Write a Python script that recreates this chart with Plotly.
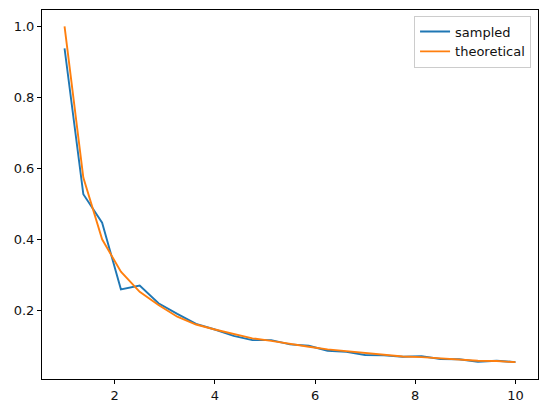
import plotly.graph_objects as go

x_values = [1.0, 1.375, 1.75, 2.125, 2.5, 2.875, 3.25, 3.625, 4.0, 4.375, 4.75, 5.125,
            5.5, 5.875, 6.25, 6.625, 7.0, 7.375, 7.75, 8.125, 8.5, 8.875, 9.25, 9.625, 10.0]
sampled = [0.938, 0.527, 0.447, 0.259, 0.270, 0.220, 0.190, 0.162, 0.146, 0.128, 0.116, 0.116,
           0.104, 0.100, 0.086, 0.083, 0.074, 0.073, 0.069, 0.071, 0.063, 0.062, 0.055, 0.058, 0.054]
theoretical = [1.0, 0.574, 0.400, 0.309, 0.252, 0.215, 0.182, 0.160, 0.146, 0.133, 0.121, 0.114,
               0.105, 0.0975, 0.090, 0.085, 0.079, 0.076, 0.070, 0.068, 0.064, 0.061, 0.058, 0.057, 0.054]
x_ticks = [2, 4, 6, 8, 10]
y_ticks = [0.2, 0.4, 0.6, 0.8, 1.0]

FONT = dict(family="DejaVu Sans", size=13, color="#111111")

fig = go.Figure()
fig.add_trace(go.Scatter(x=x_values, y=sampled, mode="lines", name="sampled",
                         line=dict(color="#1f77b4", width=1.9)))
fig.add_trace(go.Scatter(x=x_values, y=theoretical, mode="lines", name="theoretical",
                         line=dict(color="#ff7f0e", width=1.9)))

axis_common = dict(showgrid=False, zeroline=False, showline=True, linecolor="black",
                   linewidth=1, mirror=True, ticks="outside", ticklen=4, tickwidth=1,
                   tickcolor="black", tickfont=FONT)

fig.update_layout(
    width=547, height=413,
    margin=dict(l=42, r=9, t=10, b=34),
    paper_bgcolor="white", plot_bgcolor="white",
    font=FONT,
    xaxis=dict(range=[0.55, 10.45], tickvals=x_ticks, ticktext=[str(v) for v in x_ticks], **axis_common),
    yaxis=dict(range=[0.0065, 1.046], tickvals=y_ticks, ticktext=[f"{v:.1f}" for v in y_ticks], **axis_common),
    legend=dict(x=0.986, y=0.985, xanchor="right", yanchor="top",
                bgcolor="rgba(255,255,255,0.8)", bordercolor="#cccccc", borderwidth=1,
                font=FONT, tracegroupgap=0, itemwidth=30),
    showlegend=True,
)

fig.write_html("out.html", config={"displayModeBar": False},
               post_script="document.body.style.margin='0';")
